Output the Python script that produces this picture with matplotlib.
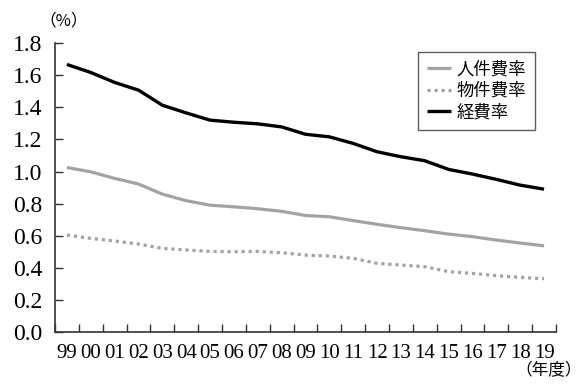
import numpy as np
import matplotlib
matplotlib.use("Agg")
import matplotlib.pyplot as plt

# -------------------------
# Data
# -------------------------
years = ["99", "00", "01", "02", "03", "04", "05", "06", "07", "08", "09",
         "10", "11", "12", "13", "14", "15", "16", "17", "18", "19"]

personnel = [1.025, 0.998, 0.957, 0.922, 0.859, 0.818, 0.790, 0.780, 0.768, 0.752, 0.726,
             0.718, 0.694, 0.671, 0.650, 0.631, 0.610, 0.594, 0.573, 0.554, 0.537]
materials = [0.604, 0.583, 0.567, 0.548, 0.521, 0.511, 0.502, 0.500, 0.502, 0.494, 0.479,
             0.473, 0.459, 0.428, 0.417, 0.407, 0.376, 0.365, 0.351, 0.340, 0.332]
expense = [1.667, 1.617, 1.555, 1.507, 1.413, 1.365, 1.320, 1.307, 1.297, 1.278, 1.232,
           1.216, 1.175, 1.123, 1.092, 1.067, 1.013, 0.984, 0.951, 0.915, 0.890]

labels = ["人件費率", "物件費率", "経費率"]
y_ticks = [0.0, 0.2, 0.4, 0.6, 0.8, 1.0, 1.2, 1.4, 1.6, 1.8]

# -------------------------
# Figure
# -------------------------
serif = ["Liberation Serif", "DejaVu Serif"]
jp = ["Noto Sans CJK JP", "DejaVu Sans"]

fig = plt.figure(figsize=(5.82, 3.85), dpi=100)
ax = fig.add_axes([0.0945, 0.1377, 0.9553 - 0.0945, 0.888 - 0.1377])

x = np.arange(len(years)) + 0.5
ax.plot(x, personnel, color="#a3a3a3", lw=2.3, label=labels[0], solid_capstyle="butt")
ax.plot(x, materials, color="#a3a3a3", lw=2.3, ls=(0, (1.0, 1.2)), label=labels[1])
ax.plot(x, expense, color="#000000", lw=2.4, label=labels[2], solid_capstyle="butt")

ax.set_xlim(0, len(years))
ax.set_ylim(0, 1.8)

# category boundaries get tick marks, labels sit at category centres
ax.set_xticks(np.arange(len(years) + 1))
ax.set_xticklabels([])
ax.set_xticks(x, minor=True)
ax.set_xticklabels(years, minor=True, fontfamily=serif, fontsize=15)
ax.tick_params(axis="x", which="major", direction="in", length=6, width=1, color="#333333")
ax.tick_params(axis="x", which="minor", length=0, pad=9)

ax.set_yticks(y_ticks)
ax.set_yticklabels([f"{v:.1f}" for v in y_ticks], fontfamily=serif, fontsize=17)
ax.tick_params(axis="y", direction="in", length=6, width=1, color="#333333", pad=9)

for side in ["top", "right"]:
    ax.spines[side].set_visible(False)
for side in ["left", "bottom"]:
    ax.spines[side].set_color("#333333")
    ax.spines[side].set_linewidth(1.2)

fig.text(0.068, 0.945, "（%）", fontfamily=jp, fontsize=12, ha="left", va="center")
fig.text(1.0, 0.037, "（年度）", fontfamily=jp, fontsize=12, ha="right", va="center")

leg = ax.legend(loc="upper left", bbox_to_anchor=(0.725, 0.97), prop={"family": jp, "size": 12.5},
                frameon=True, fancybox=False, edgecolor="#333333", handlelength=1.4,
                handletextpad=0.3, borderpad=0.5, labelspacing=0.2, borderaxespad=0)
leg.get_frame().set_linewidth(1.0)

plt.savefig("out.png", dpi=100)
plt.close()
